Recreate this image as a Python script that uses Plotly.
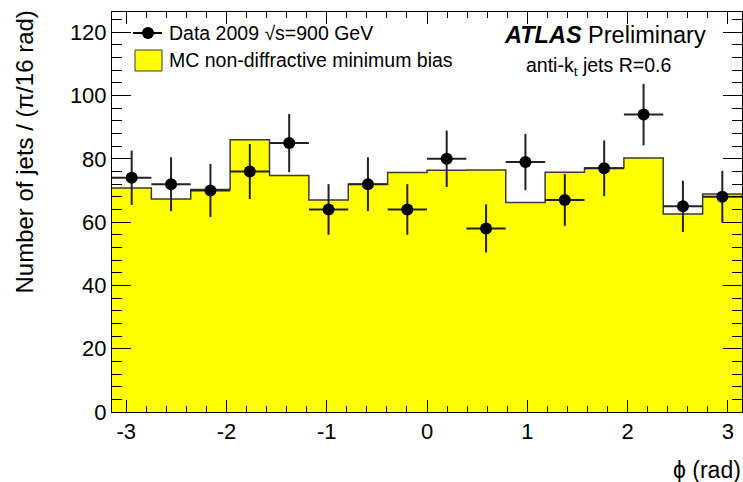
import numpy as np
import plotly.graph_objects as go

# ---- data ----
n_bins = 16
bin_edges = list(np.linspace(-np.pi, np.pi, n_bins + 1))
bin_centers = [(bin_edges[i] + bin_edges[i + 1]) / 2 for i in range(n_bins)]
half_width = (bin_edges[1] - bin_edges[0]) / 2

mc_values = [70.8, 67.3, 70.3, 86.0, 74.7, 67.0, 72.0, 75.7,
             76.4, 76.5, 66.2, 75.8, 77.1, 80.3, 62.6, 68.9]
data_values = [74, 72, 70, 76, 85, 64, 72, 64,
               80, 58, 79, 67, 77, 94, 65, 68]
data_errors = [8.6, 8.5, 8.4, 8.7, 9.2, 8.0, 8.5, 8.0,
               8.9, 7.6, 8.9, 8.2, 8.8, 9.7, 8.1, 8.2]

x_ticks = [-3, -2, -1, 0, 1, 2, 3]
y_ticks = [0, 20, 40, 60, 80, 100, 120]

data_label = "Data 2009 √s=900 GeV"
mc_label = "MC non-diffractive minimum bias"

FONT = "Liberation Sans, Arial, Helvetica, sans-serif"

# plot area in pixels (for paper-coordinate helpers)
W, H = 743, 482
ML, MR, MT, MB = 112, 1, 12, 70
PW, PH = W - ML - MR, H - MT - MB


def px(x):
    return (x - ML) / PW


def py(y):
    return (H - MB - y) / PH


fig = go.Figure()

# MC histogram (filled step)
fig.add_trace(go.Scatter(
    x=bin_edges, y=mc_values + [mc_values[-1]],
    mode="lines", line=dict(shape="hv", color="#3a3a3a", width=1.5),
    fill="tozeroy", fillcolor="#ffff00",
    name=mc_label, showlegend=False,
))

# Data points
fig.add_trace(go.Scatter(
    x=bin_centers, y=data_values, mode="markers",
    marker=dict(color="black", size=12),
    error_y=dict(type="data", array=data_errors, color="#222222", thickness=2, width=0),
    error_x=dict(type="constant", value=half_width, color="#222222", thickness=2, width=0),
    name=data_label, showlegend=False,
))

fig.update_layout(
    width=W, height=H,
    margin=dict(l=ML, r=MR, t=MT, b=MB),
    paper_bgcolor="white", plot_bgcolor="white",
    font=dict(family=FONT, color="black", size=22),
    showlegend=False,
    xaxis=dict(range=[-np.pi, np.pi], tickvals=x_ticks, ticktext=[str(v) for v in x_ticks],
               ticks="inside", ticklen=12, tickcolor="black", tickwidth=1,
               minor=dict(dtick=0.2, tick0=0, ticks="inside", ticklen=6, tickcolor="black"),
               showline=True, linecolor="black", linewidth=1, mirror="allticks",
               showgrid=False, zeroline=False, tickfont=dict(size=22)),
    yaxis=dict(range=[0, 126.4], tickvals=y_ticks, ticktext=[str(v) for v in y_ticks],
               ticks="inside", ticklen=19, tickcolor="black", tickwidth=1,
               minor=dict(dtick=4, tick0=0, ticks="inside", ticklen=10, tickcolor="black"),
               showline=True, linecolor="black", linewidth=1, mirror="allticks",
               showgrid=False, zeroline=False, tickfont=dict(size=22)),
)

# ---- legend (ROOT-style, drawn manually) ----
shapes = [
    # data entry: line + marker
    dict(type="line", xref="paper", yref="paper", x0=px(133), x1=px(162),
         y0=py(33), y1=py(33), line=dict(color="black", width=2)),
    dict(type="circle", xref="paper", yref="paper", x0=px(142), x1=px(154),
         y0=py(39), y1=py(27), fillcolor="black", line=dict(color="black", width=0)),
    # MC entry: yellow box
    dict(type="rect", xref="paper", yref="paper", x0=px(135), x1=px(162),
         y0=py(71), y1=py(50), fillcolor="#ffff00", line=dict(color="#3a3a3a", width=1)),
]
fig.update_layout(shapes=shapes)
fig.add_annotation(text=data_label, xref="paper", yref="paper", x=px(167), y=py(33),
                   xanchor="left", yanchor="middle", showarrow=False, font=dict(size=19.5))
fig.add_annotation(text=mc_label, xref="paper", yref="paper", x=px(167), y=py(60),
                   xanchor="left", yanchor="middle", showarrow=False, font=dict(size=19.5))

# axis titles (ROOT-style, aligned to the ends)
fig.add_annotation(text="Number of jets / (π/16 rad)", xref="paper", yref="paper",
                   x=px(24), y=py(9), xanchor="center", yanchor="top", textangle=-90,
                   showarrow=False, font=dict(size=24))
fig.add_annotation(text="ϕ (rad)", xref="paper", yref="paper",
                   x=px(743), y=py(470), xanchor="right", yanchor="middle",
                   showarrow=False, font=dict(size=23))

# labels
fig.add_annotation(text="<b><i>ATLAS</i></b> Preliminary", xref="paper", yref="paper",
                   x=px(708), y=py(35), xanchor="right", yanchor="middle",
                   showarrow=False, font=dict(size=23.5))
fig.add_annotation(text="anti-k<sub>t</sub> jets R=0.6", xref="paper", yref="paper",
                   x=px(673), y=py(67), xanchor="right", yanchor="middle",
                   showarrow=False, font=dict(size=19.5))

fig.write_html("out.html")
